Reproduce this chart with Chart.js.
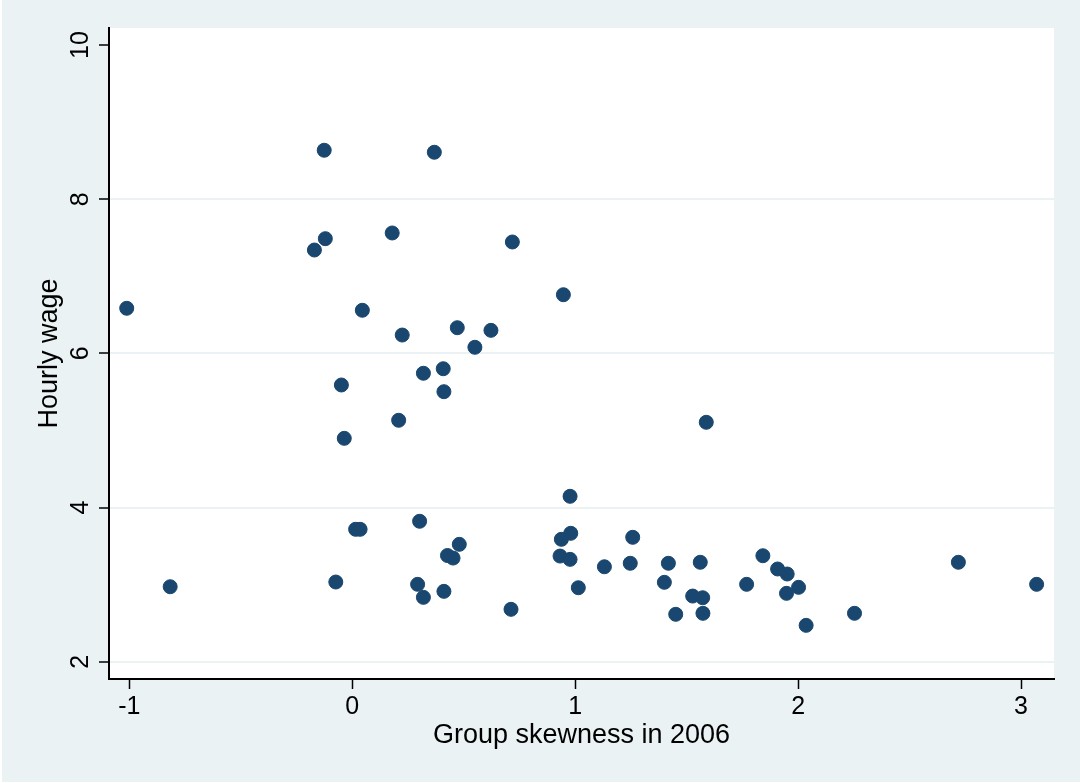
<!DOCTYPE html>
<html lang="en">
<head>
    <meta charset="UTF-8">
    <title>Hourly wage vs group skewness</title>
    <script src="https://cdn.jsdelivr.net/npm/chart.js@4.4.1/dist/chart.umd.min.js"></script>
    <style>
        body { margin: 0; background: #fff; }
    </style>
</head>
<body>
    <canvas id="scatterChart" width="1080" height="783"></canvas>
    <script>
        // values
        const skewness = [
            -1.012, -0.817, -0.126, 0.368, -0.121, -0.170, 0.179, 0.718, 0.045, 0.224,
            0.471, 0.622, 0.550, 0.947, -0.049, -0.036, 0.319, 0.408, 0.411, 0.208,
            1.588, 0.977, 0.015, 0.035, 0.302, 0.480, 0.427, 0.452, -0.074, 0.293,
            0.319, 0.411, 0.712, 0.980, 0.938, 0.932, 0.977, 1.014, 1.131, 1.258,
            1.247, 1.418, 1.400, 1.561, 1.527, 1.572, 1.451, 1.573, 1.842, 1.769,
            1.908, 1.951, 2.002, 1.948, 2.036, 2.253, 2.719, 3.070
        ];
        const wage = [
            6.585, 2.973, 8.635, 8.609, 7.488, 7.341, 7.562, 7.445, 6.559, 6.238,
            6.333, 6.299, 6.079, 6.761, 5.590, 4.898, 5.742, 5.801, 5.503, 5.132,
            5.106, 4.146, 3.718, 3.718, 3.822, 3.523, 3.378, 3.345, 3.034, 3.004,
            2.835, 2.913, 2.680, 3.666, 3.588, 3.371, 3.328, 2.960, 3.232, 3.614,
            3.277, 3.277, 3.030, 3.290, 2.852, 2.830, 2.615, 2.628, 3.375, 3.004,
            3.203, 3.138, 2.965, 2.887, 2.472, 2.628, 3.290, 3.004
        ];
        const xTicks = [-1, 0, 1, 2, 3];
        const yTicks = [2, 4, 6, 8, 10];

        const fontFamily = '"Liberation Sans", Arial, Helvetica, sans-serif';
        const bgColor = '#eaf2f3';
        const markerColor = '#1a476f';

        const points = skewness.map((x, i) => ({ x: x, y: wage[i] }));

        const backgroundPlugin = {
            id: 'stataBackground',
            beforeDraw(chart) {
                const ctx = chart.ctx;
                const area = chart.chartArea;
                ctx.save();
                ctx.fillStyle = '#ffffff';
                ctx.fillRect(0, 0, chart.width, chart.height);
                ctx.fillStyle = bgColor;
                ctx.fillRect(2, 0, chart.width - 2, chart.height - 1);
                ctx.fillStyle = '#ffffff';
                ctx.fillRect(area.left, area.top, area.right - area.left, area.bottom - area.top);
                ctx.restore();
            }
        };

        // y tick labels are drawn rotated, like the original
        const yLabelPlugin = {
            id: 'rotatedYLabels',
            afterDraw(chart) {
                const ctx = chart.ctx;
                const yScale = chart.scales.y;
                ctx.save();
                ctx.fillStyle = '#000';
                ctx.font = '25px ' + fontFamily;
                ctx.textAlign = 'center';
                ctx.textBaseline = 'alphabetic';
                yTicks.forEach(v => {
                    const py = yScale.getPixelForValue(v);
                    ctx.save();
                    ctx.translate(yScale.right - 21, py);
                    ctx.rotate(-Math.PI / 2);
                    ctx.fillText(String(v), 0, 0);
                    ctx.restore();
                });
                ctx.restore();
            }
        };

        const ctx = document.getElementById('scatterChart').getContext('2d');
        const chart = new Chart(ctx, {
            type: 'scatter',
            data: {
                datasets: [{
                    label: 'Hourly wage',
                    data: points,
                    backgroundColor: markerColor,
                    borderColor: markerColor,
                    borderWidth: 1,
                    pointRadius: 7,
                    pointHoverRadius: 7
                }]
            },
            options: {
                responsive: false,
                animation: false,
                layout: { padding: { top: 28, right: 26, left: 0, bottom: 0 } },
                plugins: {
                    legend: { display: false },
                    tooltip: { enabled: false }
                },
                scales: {
                    x: {
                        type: 'linear',
                        min: -1.0915,
                        max: 3.148,
                        afterBuildTicks: scale => { scale.ticks = xTicks.map(v => ({ value: v })); },
                        afterFit: scale => { scale.height = 104; },
                        grid: {
                            drawOnChartArea: false,
                            drawTicks: true,
                            tickLength: 10,
                            tickWidth: 1.5,
                            tickColor: '#000'
                        },
                        border: { color: '#000', width: 2 },
                        ticks: {
                            color: '#000',
                            font: { family: fontFamily, size: 25 },
                            padding: 3,
                            maxRotation: 0,
                            autoSkip: false,
                            callback: v => String(v)
                        },
                        title: {
                            display: true,
                            text: 'Group skewness in 2006',
                            color: '#000',
                            font: { family: fontFamily, size: 27 },
                            padding: { top: 0, bottom: 31 }
                        }
                    },
                    y: {
                        type: 'linear',
                        min: 1.776,
                        max: 10.221,
                        afterBuildTicks: scale => { scale.ticks = yTicks.map(v => ({ value: v })); },
                        afterFit: scale => { scale.width = 109; },
                        grid: {
                            color: c => (c.tick && c.tick.value === 10) ? 'rgba(0,0,0,0)' : bgColor,
                            lineWidth: 2,
                            drawTicks: true,
                            tickLength: 10,
                            tickWidth: 1.5,
                            tickColor: '#000'
                        },
                        border: { color: '#000', width: 2 },
                        ticks: { display: false },
                        title: {
                            display: true,
                            text: 'Hourly wage',
                            color: '#000',
                            font: { family: fontFamily, size: 27 },
                            padding: { top: 33, bottom: 0 }
                        }
                    }
                }
            },
            plugins: [backgroundPlugin, yLabelPlugin]
        });
    </script>
</body>
</html>
